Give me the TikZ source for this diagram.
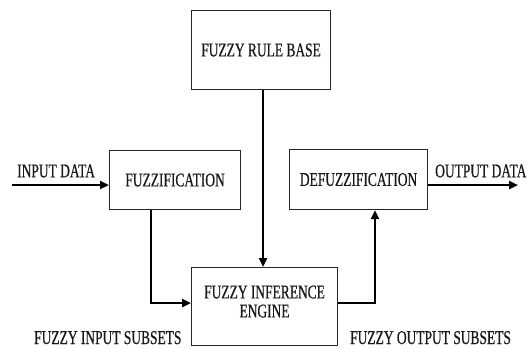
\documentclass[tikz,border=0pt]{standalone}
\usepackage{fontspec}
\newfontfamily\blockfont[FakeStretch=0.69,FakeBold=0.6]{Liberation Serif}
\usetikzlibrary{arrows.meta}
\begin{document}
\begin{tikzpicture}[x=1pt,y=-1pt,
  block/.style={draw=black!85, line width=1.1pt, inner sep=0pt, anchor=north west},
  lbl/.style={font=\blockfont\fontsize{19.5}{18}\selectfont, text=black!90, inner sep=0pt},
  flow/.style={line width=2.6pt, -{Triangle[length=9pt,width=8pt]}}]
  \useasboundingbox (0,0) rectangle (532,348);
  % blocks
  \node[block, minimum width=139pt, minimum height=79pt] (rule) at (191,10) {};
  \node[block, minimum width=131pt, minimum height=59pt] (fuzz) at (109,150) {};
  \node[block, minimum width=138pt, minimum height=60pt] (defuzz) at (289,149) {};
  \node[block, minimum width=146pt, minimum height=78pt] (inf) at (191,267) {};
  % block texts
  \node[lbl] at (rule.center) {FUZZY RULE BASE};
  \node[lbl] at (fuzz.center) {FUZZIFICATION};
  \node[lbl] at (defuzz.center) {DEFUZZIFICATION};
  \node[lbl, align=center] at ([yshift=5pt]inf.center) {FUZZY INFERENCE\\[1pt]ENGINE};
  % free ends
  \coordinate (in) at (12,185);
  \coordinate (out) at (518,185);
  % connectors
  \draw[flow] (in) -- (fuzz.west |- in);
  \draw[flow] (defuzz.east |- out) -- (out);
  \draw[flow] (rule.south -| 263,0) -- (inf.north -| 263,0);
  \draw[flow] (fuzz.south -| 151,0) |- (inf.west |- 0,303);
  \draw[flow] (inf.east |- 0,303) -| (defuzz.south -| 375,0);
  % labels
  \node[lbl, anchor=west] at (17,171) {INPUT DATA};
  \node[lbl, anchor=west] at (435,171) {OUTPUT DATA};
  \node[lbl, anchor=base west, text depth=0pt] at (34,344) {FUZZY INPUT SUBSETS};
  \node[lbl, anchor=base west, text depth=0pt] at (350,344) {FUZZY OUTPUT SUBSETS};
\end{tikzpicture}
\end{document}
